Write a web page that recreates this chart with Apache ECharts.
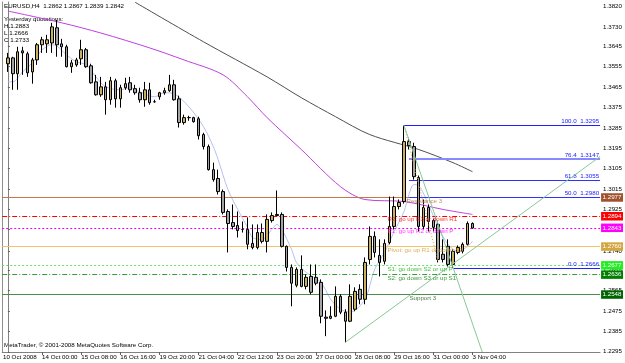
<!DOCTYPE html>
<html>
<head>
<meta charset="utf-8">
<script src="https://cdn.jsdelivr.net/npm/echarts@6/dist/echarts.min.js"></script>
<style>
html, body { margin: 0; padding: 0; background: #fff; }
#chart { width: 625px; height: 363px; }
</style>
</head>
<body>
<div id="chart"></div>
<script>
// EURUSD H4 candles, one per bar: [open, close, low, high]
var candles = [
    [1.3568, 1.3594, 1.3532, 1.3616], [1.3594, 1.3524, 1.3453, 1.3599], [1.3524, 1.3621, 1.3453, 1.3643],
    [1.3625, 1.3616, 1.3519, 1.3643], [1.3612, 1.3528, 1.3510, 1.3621], [1.3532, 1.3585, 1.3480, 1.3594],
    [1.3585, 1.3652, 1.3563, 1.3660], [1.3652, 1.3674, 1.3616, 1.3687], [1.3656, 1.3674, 1.3616, 1.3696],
    [1.3660, 1.3731, 1.3616, 1.3749], [1.3727, 1.3652, 1.3599, 1.3762], [1.3656, 1.3643, 1.3599, 1.3678],
    [1.3643, 1.3555, 1.3552, 1.3652], [1.3555, 1.3572, 1.3528, 1.3585], [1.3563, 1.3585, 1.3555, 1.3594],
    [1.3590, 1.3630, 1.3563, 1.3674], [1.3630, 1.3555, 1.3550, 1.3638], [1.3559, 1.3484, 1.3480, 1.3568],
    [1.3488, 1.3431, 1.3427, 1.3519], [1.3431, 1.3466, 1.3422, 1.3510], [1.3466, 1.3409, 1.3343, 1.3488],
    [1.3409, 1.3493, 1.3387, 1.3510], [1.3493, 1.3413, 1.3374, 1.3502], [1.3413, 1.3462, 1.3374, 1.3475],
    [1.3462, 1.3480, 1.3453, 1.3506], [1.3484, 1.3453, 1.3440, 1.3510], [1.3458, 1.3440, 1.3431, 1.3475],
    [1.3440, 1.3409, 1.3396, 1.3462], [1.3409, 1.3453, 1.3378, 1.3488], [1.3453, 1.3396, 1.3387, 1.3484],
    [1.3400, 1.3400, 1.3396, 1.3409], [1.3422, 1.3440, 1.3409, 1.3444], [1.3440, 1.3449, 1.3431, 1.3462],
    [1.3449, 1.3475, 1.3444, 1.3519], [1.3475, 1.3409, 1.3405, 1.3497], [1.3413, 1.3308, 1.3286, 1.3427],
    [1.3308, 1.3330, 1.3299, 1.3343], [1.3330, 1.3330, 1.3316, 1.3338], [1.3330, 1.3312, 1.3308, 1.3334],
    [1.3325, 1.3250, 1.3233, 1.3334], [1.3255, 1.3202, 1.3189, 1.3263], [1.3202, 1.3100, 1.3096, 1.3211],
    [1.3100, 1.3056, 1.3047, 1.3131], [1.3061, 1.3003, 1.2990, 1.3100], [1.3003, 1.2911, 1.2902, 1.3012],
    [1.2915, 1.2862, 1.2734, 1.2924], [1.2866, 1.2849, 1.2836, 1.2946], [1.2853, 1.2831, 1.2800, 1.2915],
    [1.2836, 1.2836, 1.2822, 1.2871], [1.2836, 1.2770, 1.2748, 1.2889], [1.2774, 1.2756, 1.2748, 1.2858],
    [1.2756, 1.2822, 1.2748, 1.2858], [1.2783, 1.2822, 1.2774, 1.2862], [1.2783, 1.2880, 1.2734, 1.2902],
    [1.2875, 1.2897, 1.2866, 1.2911], [1.2897, 1.2902, 1.2897, 1.3008], [1.2902, 1.2761, 1.2756, 1.2911],
    [1.2761, 1.2668, 1.2650, 1.2765], [1.2668, 1.2598, 1.2496, 1.2681], [1.2589, 1.2659, 1.2580, 1.2668],
    [1.2659, 1.2584, 1.2580, 1.2721], [1.2584, 1.2624, 1.2571, 1.2637], [1.2628, 1.2558, 1.2549, 1.2681],
    [1.2624, 1.2598, 1.2589, 1.2681], [1.2602, 1.2452, 1.2421, 1.2615], [1.2448, 1.2443, 1.2364, 1.2478],
    [1.2443, 1.2452, 1.2439, 1.2496], [1.2452, 1.2540, 1.2448, 1.2584], [1.2540, 1.2470, 1.2461, 1.2549],
    [1.2470, 1.2430, 1.2337, 1.2483], [1.2430, 1.2540, 1.2426, 1.2593], [1.2483, 1.2562, 1.2474, 1.2580],
    [1.2571, 1.2527, 1.2505, 1.2593], [1.2527, 1.2690, 1.2505, 1.2712], [1.2703, 1.2805, 1.2681, 1.2849],
    [1.2805, 1.2734, 1.2712, 1.2827], [1.2721, 1.2690, 1.2628, 1.2792], [1.2695, 1.2774, 1.2681, 1.2792],
    [1.2778, 1.2849, 1.2770, 1.2981], [1.2849, 1.2937, 1.2836, 1.2981], [1.2937, 1.2955, 1.2924, 1.2968],
    [1.2959, 1.3224, 1.2950, 1.3295], [1.3224, 1.3206, 1.3189, 1.3241], [1.3202, 1.3069, 1.3056, 1.3219],
    [1.3065, 1.2849, 1.2827, 1.3074], [1.2849, 1.2933, 1.2836, 1.2968], [1.2933, 1.2871, 1.2827, 1.2946],
    [1.2875, 1.2845, 1.2827, 1.2883], [1.2858, 1.2703, 1.2690, 1.2871], [1.2726, 1.2703, 1.2690, 1.2792],
    [1.2761, 1.2681, 1.2672, 1.2792], [1.2681, 1.2739, 1.2666, 1.2748], [1.2734, 1.2756, 1.2726, 1.2765],
    [1.2739, 1.2770, 1.2730, 1.2778], [1.2770, 1.2862, 1.2765, 1.2871], [1.2862, 1.2842, 1.2839, 1.2867]
];

// time axis labels (bar index -> text); the first one sits at the left edge
var dateIdx = [-1, 7, 15, 23, 31, 39, 47, 55, 63, 71, 79, 87, 95];
var dateLabels = ['10 Oct 2008', '14 Oct 00:00', '15 Oct 08:00', '16 Oct 16:00', '19 Oct 20:00', '21 Oct 04:00',
    '22 Oct 12:00', '23 Oct 20:00', '27 Oct 00:00', '28 Oct 08:00', '29 Oct 16:00', '31 Oct 00:00', '3 Nov 04:00'];

// price scale labels
var priceTicks = [1.3820, 1.3730, 1.3645, 1.3555, 1.3465, 1.3375, 1.3285, 1.3195, 1.3105, 1.3015,
    1.2925, 1.2835, 1.2740, 1.2655, 1.2565, 1.2475, 1.2385, 1.2295];

// moving averages: [bar index, price]
var maSlow = [[26, 1.3840], [40, 1.3665], [53, 1.3510], [60, 1.3418], [67, 1.3334], [74, 1.3255],
    [84, 1.3189], [91, 1.3131], [95, 1.3091]];
var maMid = [[0, 1.3801], [11, 1.3749], [19, 1.3704], [29, 1.3638], [36, 1.3585], [44, 1.3519],
    [49, 1.3422], [53, 1.3330], [60, 1.3189], [68, 1.3025], [73, 1.2968], [81, 1.2959], [89, 1.2924], [95, 1.2902]];
var maFast = [[0, 1.3488], [1, 1.3488], [3, 1.3532], [5, 1.3572], [7, 1.3630], [9, 1.3652], [10, 1.3647],
    [12, 1.3607], [14, 1.3577], [16, 1.3563], [18, 1.3510], [20, 1.3466], [23, 1.3453], [25, 1.3462],
    [27, 1.3444], [30, 1.3422], [32, 1.3440], [34, 1.3435], [37, 1.3378], [40, 1.3290], [42, 1.3202],
    [43, 1.3144], [45, 1.3012], [47, 1.2924], [49, 1.2845], [50, 1.2800], [52, 1.2792], [54, 1.2836],
    [55, 1.2858], [56, 1.2836], [58, 1.2748], [59, 1.2690], [61, 1.2646], [64, 1.2602], [66, 1.2527],
    [68, 1.2483], [70, 1.2470], [73, 1.2527], [75, 1.2659], [77, 1.2734], [79, 1.2827], [81, 1.2915],
    [82, 1.2990], [83, 1.3034], [84, 1.3030], [86, 1.2946], [88, 1.2845], [90, 1.2770], [92, 1.2739],
    [94, 1.2761], [95, 1.2783]];

// daily pivot levels
var pivotValues = [1.2977, 1.2894, 1.2843, 1.2760, 1.2677, 1.2636, 1.2548];
var pivotNames = ['Resistance 3', 'R2: go up R3 or down R1', 'R1: go up R2 or down P', 'Pivot: go up R1 or down S1',
    'S1: go down S2 or up P', 'S2: go down S3 or up S1', 'Support 3'];
var pivotTextIdx = [81.6, 77.7, 77.7, 77.7, 77.7, 77.7, 82.2];

// fibonacci retracement
var fibLevels = ['100.0', '76.4', '61.8', '50.0', '0.0'];
var fibPrices = [1.3295, 1.3147, 1.3055, 1.2980, 1.2666];
var fibStartIdx = [81, 82, 82, 82, 91];

// trend lines
var trendDown = [[81, 1.3295], [97, 1.2294]];
var trendUp = [[69, 1.2337], [121.09, 1.3158]];
var fibBase = [[81, 1.3295], [88, 1.2690]];

var lastBar = [1.2862, 1.2867, 1.2839, 1.2842];
var yesterdayNames = ['H', 'L', 'C'];
var yesterdayValues = [1.2883, 1.2666, 1.2733];

var FONT = 'Liberation Sans';
var FS = 6.2;
var X_MIN = -1.161, X_MAX = 121.09;
var Y_MIN = 1.2294, Y_MAX = 1.3841;

var pivotLine = [
    { color: '#c0784c', type: 'solid', box: '#a0522d', text: '#b86a3c' },
    { color: '#ff0000', type: [5, 2, 1, 2], box: '#ff0000', text: '#ff0000' },
    { color: '#ff00ff', type: [2, 2], box: '#ff00ff', text: '#ff00ff' },
    { color: '#f2c46a', type: 'solid', box: '#d4a640', text: '#d09a30' },
    { color: '#66dd66', type: [2, 2], box: '#22ee22', text: '#10b010' },
    { color: '#33a033', type: [5, 2, 1, 2], box: '#008000', text: '#108010' },
    { color: '#4c8c4c', type: 'solid', box: '#006400', text: '#1c5c1c' }
];
var fibStyle = [
    { color: '#2020ff', width: 1 }, { color: '#8888ff', width: 2 }, { color: '#3030ff', width: 1 },
    { color: '#3030ff', width: 1 }, { color: '#2020ff', width: 1 }
];

var dom = document.getElementById('chart');
var chart = echarts.init(dom);

var candleData = [];
for (var i = 0; i < candles.length; i++) {
    candleData.push([i, candles[i][0], candles[i][1], candles[i][2], candles[i][3]]);
}

var pivotMarks = [];
var pivotNotes = [];
for (var i = 0; i < pivotValues.length; i++) {
    pivotMarks.push({
        yAxis: pivotValues[i],
        lineStyle: { color: pivotLine[i].color, type: pivotLine[i].type, width: 1 },
        label: {
            show: true, position: 'end', distance: 1,
            formatter: pivotValues[i].toFixed(4),
            color: '#fff', backgroundColor: pivotLine[i].box,
            padding: [1.5, 1.5, 1, 1.5], fontSize: FS, fontFamily: FONT
        }
    });
    pivotNotes.push({
        value: [pivotTextIdx[i], pivotValues[i]],
        label: { formatter: pivotNames[i], color: pivotLine[i].text }
    });
}

var fibMarks = [];
for (var i = 0; i < fibLevels.length; i++) {
    fibMarks.push([
        { coord: [fibStartIdx[i], fibPrices[i]] },
        {
            coord: [X_MAX, fibPrices[i]],
            lineStyle: { color: fibStyle[i].color, width: fibStyle[i].width, type: 'solid' },
            label: {
                show: true, position: 'insideEndTop', distance: 1,
                formatter: fibLevels[i] + '  ' + fibPrices[i].toFixed(4),
                color: '#2020ff', fontSize: FS, fontFamily: FONT
            }
        }
    ]);
}

function plainLine(name, data, color, width, type, z, smooth) {
    return {
        name: name, type: 'line', data: data, showSymbol: false, symbol: 'none',
        smooth: smooth || false, z: z, silent: true,
        lineStyle: { color: color, width: width, type: type || 'solid' }
    };
}

function dateText(v) {
    for (var j = 0; j < dateIdx.length; j++) {
        if (Math.abs(dateIdx[j] - v) < 0.01) return dateLabels[j];
    }
    return '';
}

var option = {
    animation: false,
    backgroundColor: '#fff',
    textStyle: { fontFamily: FONT },
    grid: { left: 1, right: 24, top: 2, bottom: 11 },
    xAxis: {
        type: 'value', min: X_MIN, max: X_MAX,
        axisLine: { show: true, onZero: false, lineStyle: { color: '#808080', width: 1 } },
        axisTick: { show: true, customValues: dateIdx.slice(1), length: 3, lineStyle: { color: '#606060' } },
        axisLabel: {
            customValues: dateIdx, align: 'left', margin: 2,
            fontSize: FS, fontFamily: FONT, color: '#000',
            formatter: dateText
        },
        splitLine: { show: false }
    },
    yAxis: [{
        type: 'value', position: 'right', min: Y_MIN, max: Y_MAX, scale: true,
        axisLine: { show: true, lineStyle: { color: '#808080', width: 1 } },
        axisTick: { show: true, customValues: priceTicks, length: 2, lineStyle: { color: '#606060' } },
        axisLabel: {
            customValues: priceTicks, margin: 3, fontSize: FS, fontFamily: FONT, color: '#000',
            formatter: function (v) { return v.toFixed(4); }
        },
        splitLine: { show: false }
    }, {
        type: 'value', position: 'left', min: Y_MIN, max: Y_MAX, scale: true,
        axisLine: { show: true, lineStyle: { color: '#909090', width: 1 } },
        axisTick: { show: false }, axisLabel: { show: false }, splitLine: { show: false }
    }],
    series: [
        {
            name: 'pivots', type: 'line', data: [], z: 1, silent: true,
            markLine: { symbol: ['none', 'none'], precision: 4, silent: true, animation: false, data: pivotMarks }
        },
        {
            name: 'fibo', type: 'line', data: [], z: 2, silent: true,
            markLine: { symbol: ['none', 'none'], precision: 4, silent: true, animation: false, data: fibMarks }
        },
        plainLine('MA slow', maSlow, '#505050', 1, 'solid', 3, 0.3),
        plainLine('MA mid', maMid, '#c040e0', 1, 'solid', 3, 0.3),
        plainLine('MA fast', maFast, '#b8c0ee', 1, 'solid', 3, 0.3),
        {
            name: 'EURUSD', type: 'candlestick', data: candleData, z: 5, barWidth: 3,
            itemStyle: {
                color: '#c8b060', color0: '#a4a4a4',
                borderColor: '#000', borderColor0: '#000', borderWidth: 1
            }
        },
        plainLine('fibo base', fibBase, '#e0a040', 1, [1, 2], 6),
        plainLine('trend down', trendDown, '#86c896', 1, 'solid', 6),
        plainLine('trend up', trendUp, '#86c896', 1, 'solid', 6),
        {
            name: 'notes', type: 'scatter', data: pivotNotes, symbolSize: 1, z: 7, silent: true,
            itemStyle: { color: 'rgba(0,0,0,0)' },
            label: { show: true, position: [0, 1], fontSize: FS, fontFamily: FONT }
        }
    ],
    graphic: [
        { type: 'text', left: 4, top: 3, style: { text: 'EURUSD,H4  ' + lastBar.map(function (v) { return v.toFixed(4); }).join(' '), fontSize: FS, fontFamily: FONT, fill: '#000' } },
        { type: 'text', left: 4, top: 16, style: { text: 'Yesterday quotations:', fontSize: FS, fontFamily: FONT, fill: '#000' } },
        { type: 'text', left: 4, top: 23.5, style: { text: yesterdayNames[0] + ' ' + yesterdayValues[0].toFixed(4), fontSize: FS, fontFamily: FONT, fill: '#000' } },
        { type: 'text', left: 4, top: 30.5, style: { text: yesterdayNames[1] + ' ' + yesterdayValues[1].toFixed(4), fontSize: FS, fontFamily: FONT, fill: '#000' } },
        { type: 'text', left: 4, top: 37.5, style: { text: yesterdayNames[2] + ' ' + yesterdayValues[2].toFixed(4), fontSize: FS, fontFamily: FONT, fill: '#000' } },
        { type: 'text', left: 4, top: 342, style: { text: 'MetaTrader, \u00a9 2001-2008 MetaQuotes Software Corp.', fontSize: FS, fontFamily: FONT, fill: '#000' } }
    ]
};

chart.setOption(option);
</script>
</body>
</html>
